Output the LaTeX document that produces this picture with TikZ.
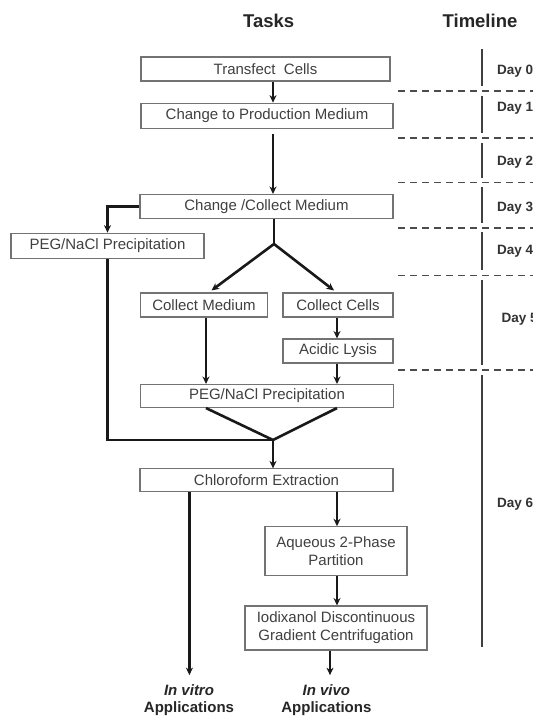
\documentclass[tikz,border=0pt]{standalone}
\usepackage{fontspec}
\setmainfont{Liberation Sans}
\usetikzlibrary{arrows.meta}
\begin{document}
\begin{tikzpicture}[x=1pt,y=-1pt,
  box/.style={draw=black!55, line width=1.1pt, text=black!75, font=\fontsize{15}{18}\selectfont, inner sep=0pt, minimum height=24pt, align=center},
  head/.style={font=\bfseries\fontsize{18.5}{22}\selectfont, text=black!85},
  daylbl/.style={anchor=west, font=\bfseries\fontsize{13.5}{16}\selectfont, text=black!80, inner sep=0pt},
  applbl/.style={font=\bfseries\fontsize{15}{17.5}\selectfont, text=black!85, align=center, inner sep=0pt},
  flow/.style={line width=2.6pt, draw=black!90, line join=miter},
  arr/.style={flow, -{Stealth[length=7.5pt,width=7pt]}},
  dashline/.style={line width=1.5pt, draw=black!70, dash pattern=on 7pt off 5pt},
  tline/.style={line width=1.7pt, draw=black!75}
]
\useasboundingbox (0,0) rectangle (533,718);
\fill[white] (0,0) rectangle (533,718);

% headings
\node[head] (tasks) at (268.7,20.4) {Tasks};
\node[head] (timeline) at (480,20.4) {Timeline};

% boxes
\node[box, minimum width=249pt] (t) at (265.5,69) {Transfect\ \ Cells};
\node[box, minimum width=252pt, minimum height=25pt] (p) at (267,115.7) {Change to Production Medium};
\node[box, minimum width=253pt] (cc) at (266.5,206.5) {Change /Collect Medium};
\node[box, minimum width=193pt, minimum height=25pt] (pl) at (107.5,245.7) {PEG/NaCl Precipitation};
\node[box, minimum width=127pt] (cm) at (204,305) {Collect Medium};
\node[box, minimum width=110pt] (cl) at (338,305) {Collect Cells};
\node[box, minimum width=110pt] (al) at (338,351) {Acidic Lysis};
\node[box, minimum width=253pt, minimum height=23pt] (pg) at (267,396) {PEG/NaCl Precipitation};
\node[box, minimum width=253pt, minimum height=23pt] (ch) at (266.5,480.4) {Chloroform Extraction};
\node[box, minimum width=142pt, minimum height=48.5pt] (aq) at (336,551) {Aqueous 2-Phase\\Partition};
\node[box, minimum width=182pt, minimum height=44pt] (io) at (336,628) {Iodixanol Discontinuous\\Gradient Centrifugation};

\node[applbl, anchor=south] (vitro) at (189,716) {\textit{In vitro}\\Applications};
\node[applbl, anchor=south] (vivo) at (326.4,716) {\textit{In vivo}\\Applications};

% helper coordinates
\coordinate (xa) at (273,0);
\coordinate (j1) at (274,244);
\coordinate (j2) at (273,440);
\coordinate (xcm) at (211.5,0);
\coordinate (xcl) at (334,0);
\coordinate (xm) at (206,0);
\coordinate (xr) at (337,0);
\coordinate (xv) at (189.4,0);
\coordinate (xi) at (330,0);

% connectors
\draw[arr] (t.south -| xa) -- (p.north -| xa);
\draw[arr, shorten <=5pt] (p.south -| xa) -- (cc.north -| xa);
\draw[arr] (cc.west) -| (pl.north);
\draw[flow] (pl.south) |- (j2);
\draw[flow] (cc.south -| j1) -- (j1);
\draw[arr] (j1) -- ([yshift=2pt]cm.north -| xcm);
\draw[arr] (j1) -- ([yshift=2pt]cl.north -| xcl);
\draw[arr] (cm.south -| xm) -- (pg.north -| xm);
\draw[arr] (cl.south -| xr) -- (al.north -| xr);
\draw[arr] (al.south -| xr) -- (pg.north -| xr);
\draw[flow] (pg.south -| xm) -- (j2) -- (pg.south -| xr);
\draw[arr] (j2) -- (ch.north -| j2);
\draw[arr] (ch.south -| xv) -- ([yshift=9pt]vitro.north -| xv);
\draw[arr] (ch.south -| xr) -- (aq.north -| xr);
\draw[arr] (aq.south -| xr) -- (io.north -| xr);
\draw[arr] (io.south -| xi) -- ([yshift=9pt]vivo.north -| xi);

% timeline
\foreach \ya/\yb in {49/86, 96/133, 143/178, 187/223, 232/270, 280/365, 375/647}
  \draw[tline] (482,\ya) -- (482,\yb);
\foreach \yy in {91, 138, 182.6, 227.8, 275.4, 370}
  \draw[dashline] (398,\yy) -- (540,\yy);

\node[daylbl] (d0) at (497,70.7) {Day 0};
\node[daylbl] (d1) at (497,108) {Day 1};
\node[daylbl] (d2) at (497,162.5) {Day 2};
\node[daylbl] (d3) at (497,208) {Day 3};
\node[daylbl] (d4) at (497,251.6) {Day 4};
\node[daylbl] (d5) at (501.5,319) {Day 5};
\node[daylbl] (d6) at (497,504.5) {Day 6};
\end{tikzpicture}
\end{document}
